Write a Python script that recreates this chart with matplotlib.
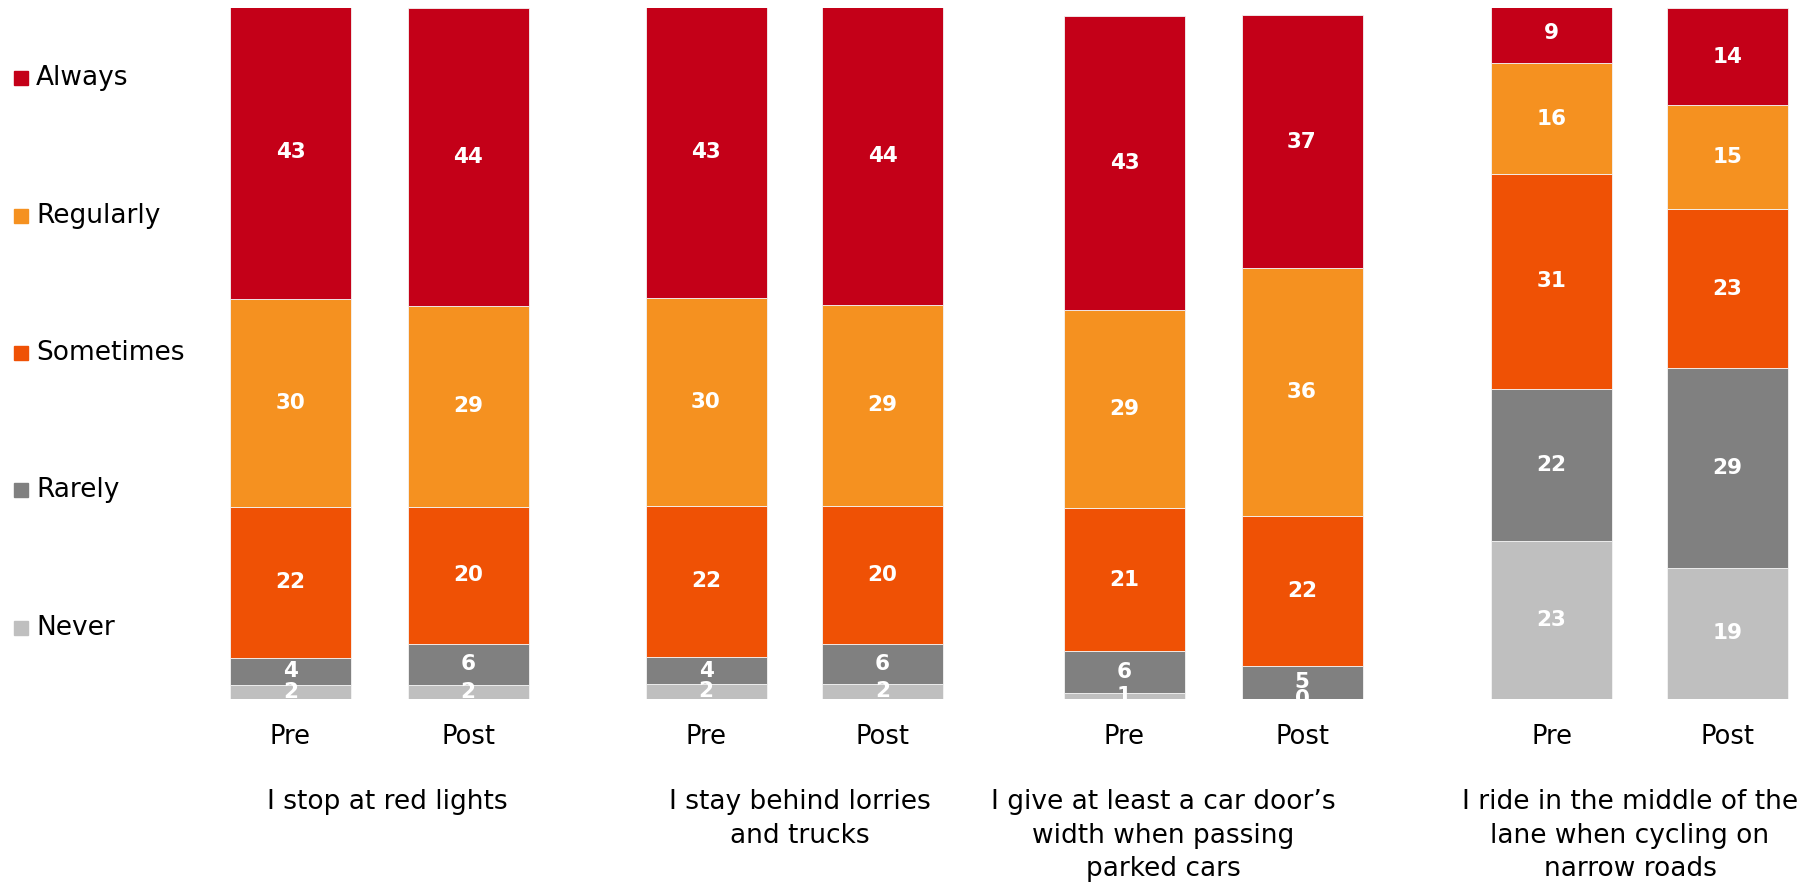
import matplotlib
matplotlib.use('Agg')
import matplotlib.pyplot as plt
from matplotlib.patches import Rectangle

# <codecell>
'''DATA'''
# <codecell>
levels = ['Never', 'Rarely', 'Sometimes', 'Regularly', 'Always']
colors = ['#BFBFBF', '#808080', '#EF5105', '#F59120', '#C40018']
questions = [
    'I stop at red lights',
    'I stay behind lorries\nand trucks',
    'I give at least a car door\u2019s\nwidth when passing\nparked cars',
    'I ride in the middle of the\nlane when cycling on\nnarrow roads',
]
phases = ['Pre', 'Post']

# percentages per bar, ordered Never .. Always (bottom to top)
red_lights_pre = [2.1, 3.9, 22.1, 30.4, 43.0]
red_lights_post = [2.1, 6.0, 20.0, 29.4, 43.6]
lorries_pre = [2.2, 3.9, 22.2, 30.4, 42.6]
lorries_post = [2.2, 5.9, 20.2, 29.4, 43.5]
car_door_pre = [0.9, 6.1, 20.9, 29.0, 43.1]
car_door_post = [0.0, 4.9, 21.9, 36.2, 37.1]
middle_lane_pre = [23.1, 22.3, 31.4, 16.2, 9.0]
middle_lane_post = [19.2, 29.2, 23.3, 15.2, 14.2]

bars = [red_lights_pre, red_lights_post,
        lorries_pre, lorries_post,
        car_door_pre, car_door_post,
        middle_lane_pre, middle_lane_post]

# <codecell>
'''LAYOUT'''
# <codecell>
W, H = 1818, 882
bar_x = [290.5, 468, 706, 882.5, 1124.5, 1302, 1551.5, 1727.5]
bar_w = 121
label_x = [387, 800, 1163, 1630]

plt.rcParams['font.family'] = ['DejaVu Sans']
fig = plt.figure(figsize=(W / 100, H / 100), dpi=100)
ax = fig.add_axes([0, (H - 699) / H, 1, (699 - 8) / H])
ax.set_xlim(0, W)
ax.set_ylim(0, 101.1)

for x, vals in zip(bar_x, bars):
    bottom = 0
    for v, c in zip(vals, colors):
        ax.bar(x, v, bottom=bottom, width=bar_w, color=c,
               edgecolor='#f4f4f4', linewidth=0.6)
        ax.text(x, bottom + v / 2, '{:.0f}'.format(v),
                ha='center', va='center', color='white',
                fontsize=15.5, fontweight='bold', clip_on=True)
        bottom += v

ax.set_xticks(bar_x, phases * 4)
ax.tick_params(axis='x', length=0, pad=18, labelsize=18.5)
ax.set_yticks([])
for s in ax.spines.values():
    s.set_visible(False)

for x, q in zip(label_x, questions):
    fig.text(x / W, 1 - 789 / H, q, ha='center', va='top',
             fontsize=19, linespacing=1.38)

# legend on the left, Always at the top
legend_y = [628, 490, 353, 216, 78]
for y, lab, c in zip(legend_y, levels, colors):
    fig.patches.append(Rectangle((14 / W, 1 - (y + 7) / H), 14 / W, 14 / H,
                                 transform=fig.transFigure, color=c))
    fig.text(36 / W, 1 - y / H, lab, ha='left', va='center', fontsize=19)

plt.savefig('out.png', dpi=100)
